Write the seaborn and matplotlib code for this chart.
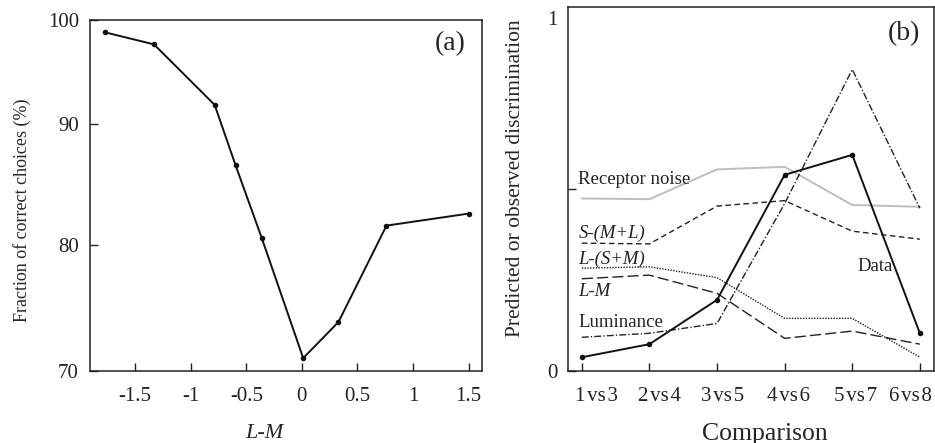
import numpy as np
import pandas as pd
import matplotlib
matplotlib.use("Agg")
import matplotlib.pyplot as plt
import matplotlib.transforms as mtransforms
import seaborn as sns

# panel (a): fraction of correct choices vs L-M contrast
lm_contrast = [-1.77, -1.33, -0.784, -0.596, -0.362, 0.012, 0.329, 0.761, 1.50]
correct_pct = [97.67, 96.67, 91.63, 86.6, 80.58, 70.55, 73.55, 81.58, 82.58]

# panel (b): predicted / observed discrimination per comparison
comparisons = ["1\u200avs\u200a3", "2\u200avs\u200a4", "3\u200avs\u200a5",
               "4\u200avs\u200a6", "5\u200avs\u200a7", "6\u200avs\u200a8"]
receptor_noise = [0.474, 0.472, 0.554, 0.561, 0.456, 0.451]
s_ml = [0.351, 0.349, 0.453, 0.468, 0.384, 0.362]
l_sm = [0.282, 0.286, 0.256, 0.144, 0.144, 0.037]
l_m = [0.253, 0.263, 0.213, 0.089, 0.109, 0.073]
luminance = [0.092, 0.103, 0.130, 0.46, 0.829, 0.447]
observed = [0.037, 0.073, 0.195, 0.539, 0.594, 0.103]

sns.set_theme(style="ticks")
plt.rcParams["font.family"] = ["Liberation Serif", "DejaVu Serif"]
plt.rcParams["axes.linewidth"] = 1.1
plt.rcParams["xtick.direction"] = "in"
plt.rcParams["ytick.direction"] = "in"

fig = plt.figure(figsize=(9.35, 4.43), dpi=100)
ax_a = fig.add_axes([0.0963, 0.1632, 0.4192, 0.7917])
ax_b = fig.add_axes([0.6078, 0.1632, 0.3912, 0.8203])

for ax in (ax_a, ax_b):
    for s in ax.spines.values():
        s.set_color("#222222")
        s.set_visible(True)
    ax.tick_params(length=6, width=1.0, color="#222222", labelcolor="#222222")

# ---- (a)
df_a = pd.DataFrame({"lm": lm_contrast, "pct": correct_pct})
sns.lineplot(data=df_a, x="lm", y="pct", ax=ax_a, color="#111111", lw=1.4,
             marker="o", markersize=4, markeredgewidth=0)
ylo, yhi = 69.5, 98.7
ax_a.set_xlim(-1.905, 1.62)
ax_a.set_ylim(ylo, yhi)
ax_a.set_xticks([-1.5, -1, -0.5, 0, 0.5, 1, 1.5])
ax_a.set_xticklabels(["-1.5", "-1", "-0.5", "0", "0.5", "1", "1.5"], fontsize=15)
ax_a.set_yticks([ylo, 80, 90, yhi])
ax_a.set_yticklabels(["70", "80", "90", "100"], fontsize=15)
ax_a.tick_params(axis="x", pad=12)
ax_a.tick_params(axis="y", pad=8)
ax_a.set_xlabel("L-M", fontsize=16, style="italic")
ax_a.xaxis.set_label_coords(0.446, -0.152)
ax_a.set_ylabel("Fraction of correct choices (%)", fontsize=13)
ax_a.yaxis.set_label_coords(-0.15, 0.458)
ax_a.text(0.957, 0.934, "(a)", transform=ax_a.transAxes, ha="right", va="center",
          fontsize=20)

# ---- (b)
xpos = np.arange(len(comparisons))
series = [
    ("Receptor noise", receptor_noise, "#bdbdbd", "-", 1.4),
    ("S-(M+L)", s_ml, "#222222", (0, (4, 2.5)), 1.0),
    ("L-(S+M)", l_sm, "#222222", (0, (1, 1)), 1.0),
    ("L-M", l_m, "#222222", (0, (8, 3)), 1.0),
    ("Luminance", luminance, "#222222", (0, (5, 1.5, 1, 1.5)), 1.0),
]
for name, vals, col, ls, lw in series:
    sns.lineplot(x=xpos, y=vals, ax=ax_b, color=col, lw=lw, linestyle=ls)
sns.lineplot(x=xpos, y=observed, ax=ax_b, color="#111111", lw=1.4,
             marker="o", markersize=4, markeredgewidth=0)

ax_b.set_xlim(-0.2, 5.21)
ax_b.set_ylim(0, 1)
ax_b.set_xticks(xpos)
ax_b.set_xticklabels(comparisons, fontsize=15)
ax_b.set_yticks([0, 0.5, 0.97])
ax_b.set_yticklabels(["0", "", "1"], fontsize=15)
ax_b.yaxis.get_major_ticks()[2].tick1line.set_visible(False)
ax_b.tick_params(axis="x", pad=12)
ax_b.tick_params(axis="y", pad=8)
# the printed labels sit a little right of their ticks, last one flush with the frame
for lbl, dx in zip(ax_b.get_xticklabels(), [15, 10, 6, 4, 3, -9]):
    lbl.set_transform(lbl.get_transform()
                      + mtransforms.ScaledTranslation(dx / 100, 0, fig.dpi_scale_trans))
ax_b.set_xlabel("Comparison", fontsize=18.5)
ax_b.xaxis.set_label_coords(0.538, -0.143)
ax_b.set_ylabel("Predicted or observed discrimination", fontsize=15.5)
ax_b.yaxis.set_label_coords(-0.118, 0.53)
ax_b.text(0.962, 0.929, "(b)", transform=ax_b.transAxes, ha="right", va="center",
          fontsize=20)

lab_kw = dict(fontsize=13.5, color="#222222", va="center", ha="left")
ax_b.text(-0.05, 0.527, "Receptor noise", **lab_kw)
ax_b.text(-0.05, 0.379, "S-(M+L)", style="italic", **lab_kw)
ax_b.text(-0.05, 0.307, "L-(S+M)", style="italic", **lab_kw)
ax_b.text(-0.05, 0.219, "L-M", style="italic", **lab_kw)
ax_b.text(-0.05, 0.132, "Luminance", **lab_kw)
ax_b.text(4.07, 0.286, "Data", **lab_kw)

fig.savefig("out.png", dpi=100)
